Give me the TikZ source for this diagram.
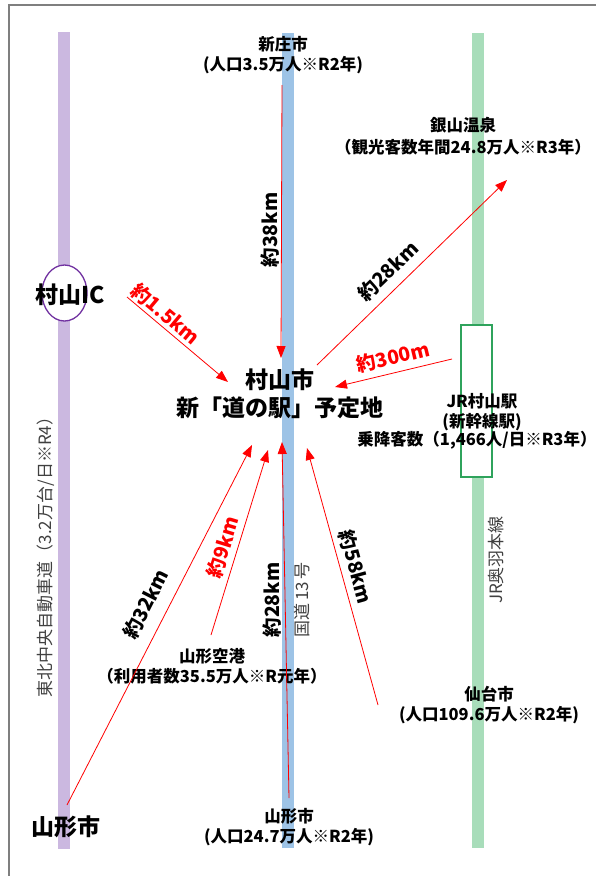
\documentclass[tikz,border=0pt]{standalone}
\usepackage{fontspec}
\setmainfont{Noto Sans CJK JP}
\usetikzlibrary{arrows.meta,shapes.geometric}
\definecolor{barpurple}{HTML}{CBB8E0}
\definecolor{barblue}{HTML}{9DC3E6}
\definecolor{bargreen}{HTML}{A8DDBA}
\definecolor{icpurple}{HTML}{7030A0}
\definecolor{jrgreen}{HTML}{2FA35C}
\definecolor{framegray}{HTML}{7F7F7F}
\tikzset{
  bar/.style={line width=12pt},
  arr/.style={draw=red, line width=0.8pt, -{Triangle[length=12pt,width=9pt,fill=red]}},
  lbl/.style={font=\bfseries\fontsize{16.5}{20}\selectfont, align=center, inner sep=0pt},
  big/.style={font=\bfseries\fontsize{23}{28}\selectfont, align=center, inner sep=0pt},
  dist/.style={font=\bfseries\fontsize{19.5}{22}\selectfont, inner sep=0pt},
  rdist/.style={dist, text=red},
  road/.style={font=\fontsize{17}{19}\selectfont, text=black!75, inner sep=0pt}
}
\begin{document}
\begin{tikzpicture}[x=1pt,y=-1pt]
\useasboundingbox (0,0) rectangle (596,876);
% frame
\draw[framegray, line width=1.5pt] (9,876) -- (9,5) -- (596,5);
% bars
\coordinate (pT) at (64,32); \coordinate (pB) at (64,849);
\coordinate (bT) at (287.5,33); \coordinate (bB) at (287.5,848);
\coordinate (gT) at (478,33); \coordinate (gB) at (478,848);
\draw[bar, barpurple] (pT) -- (pB);
\draw[bar, barblue] (bT) -- (bB);
\draw[bar, bargreen] (gT) -- (gB);
% IC circle and station box
\node[draw=icpurple, fill=white, line width=1.3pt, ellipse, minimum width=45pt, minimum height=56pt, inner sep=0pt] (icc) at (64.5,293) {};
\node[draw=jrgreen, fill=white, line width=2pt, minimum width=31pt, minimum height=152pt, inner sep=0pt] (jrbox) at (476.5,401) {};
% road labels
\node[road, rotate=90] (expw) at (46,553) {東北中央自動車道（3.2万台/日※R4）};
\node[road, rotate=90] (ouu) at (496,560) {JR奥羽本線};
\node[road, rotate=90] (r13) at (302,600) {国道\hspace{3pt}13\hspace{3pt}号};
% place labels
\node[lbl] (shinjo) at (283,55) {新庄市\\(人口3.5万人※R2年)};
\node[lbl] (ginzan) at (463,136) {銀山温泉\\[2pt]（観光客数年間24.8万人※R3年）};
\node[big] (ic) at (70,295) {村山IC};
\node[big] (site) at (280,394) {村山市\\新「道の駅」予定地};
\node[lbl] (jrst) at (482,412) {JR村山駅\\(新幹線駅)};
\node[lbl] (riders) at (477,440) {乗降客数（1,466人/日※R3年）};
\node[lbl] (airport) at (212,666) {山形空港\\（利用者数35.5万人※R元年）};
\node[lbl] (sendai) at (489,705) {仙台市\\(人口109.6万人※R2年)};
\node[lbl] (yamagata) at (289,827) {山形市\\(人口24.7万人※R2年)};
\node[big] (ycity) at (66,827) {山形市};
% arrow end points
\coordinate (s38) at (282,85);   \coordinate (e38) at (281,358);
\coordinate (s28g) at (317,365); \coordinate (e28g) at (507,180);
\coordinate (s15) at (127,297);  \coordinate (e15) at (228,382);
\coordinate (s300) at (452,359); \coordinate (e300) at (335,387);
\coordinate (s32) at (67,805);   \coordinate (e32) at (252,445);
\coordinate (s9) at (211,635);   \coordinate (e9) at (268,450);
\coordinate (s28y) at (289,798); \coordinate (e28y) at (282,442);
\coordinate (s58) at (378,705);  \coordinate (e58) at (307,448);
\draw[arr] (s38) -- (e38);
\draw[arr] (s28g) -- (e28g);
\draw[arr] (s15) -- (e15);
\draw[arr] (s300) -- (e300);
\draw[arr] (s32) -- (e32);
\draw[arr] (s9) -- (e9);
\draw[arr] (s28y) -- (e28y);
\draw[arr] (s58) -- (e58);
% distance labels
\node[dist, rotate=90] (d38) at (270,230) {約38km};
\node[dist, rotate=44] (d28g) at (388,271) {約28km};
\node[rdist, rotate=-40] (d15) at (166,314) {約1.5km};
\node[rdist, rotate=13.5] (d300) at (393,357) {約300m};
\node[dist, rotate=63] (d32) at (146,604) {約32km};
\node[rdist, rotate=73] (d9) at (223,547) {約9km};
\node[dist, rotate=90] (d28y) at (272,600) {約28km};
\node[dist, rotate=-74.6] (d58) at (356,567) {約58km};
\end{tikzpicture}
\end{document}
